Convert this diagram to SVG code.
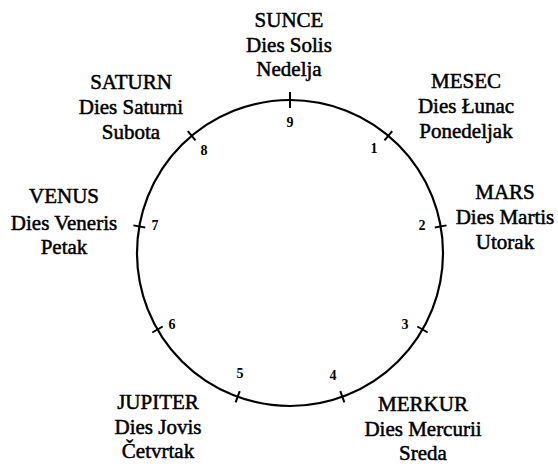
<svg xmlns="http://www.w3.org/2000/svg" width="558" height="467" viewBox="0 0 558 467">
<style>
.lbl{font-family:"Liberation Serif","Times New Roman",serif;font-size:21px;text-anchor:middle;fill:#000;stroke:#000;stroke-width:0.5}
.num{font-family:"Liberation Serif","Times New Roman",serif;font-size:14px;font-weight:bold;text-anchor:middle;fill:#000}
.ring{fill:none;stroke:#000;stroke-width:2.2}
.tick{stroke:#000;stroke-width:2}
</style>
<defs>
<line id="t" class="tick" x1="290" y1="94" x2="290" y2="106"/>
</defs>
<rect width="558" height="467" fill="#fff"/>
<g id="connectors">
<circle class="ring" cx="290" cy="253" r="153"/>
<line class="tick" x1="290" y1="92" x2="290" y2="108" stroke-width="2.5"/>
<use href="#t" transform="rotate(40 290 253)"/>
<use href="#t" transform="rotate(80 290 253)"/>
<use href="#t" transform="rotate(120 290 253)"/>
<use href="#t" transform="rotate(160 290 253)"/>
<use href="#t" transform="rotate(200 290 253)"/>
<use href="#t" transform="rotate(240 290 253)"/>
<use href="#t" transform="rotate(280 290 253)"/>
<use href="#t" transform="rotate(320 290 253)"/>
</g>
<g id="sunce">
<text class="lbl" x="289" y="27">SUNCE</text>
<text class="lbl" x="289" y="52">Dies Solis</text>
<text class="lbl" x="289" y="76">Nedelja</text>
<text class="num" x="290" y="127">9</text>
</g>
<g id="mesec">
<text class="lbl" x="466" y="88">MESEC</text>
<text class="lbl" x="466" y="113">Dies Łunac</text>
<text class="lbl" x="466" y="138">Ponedeljak</text>
<text class="num" x="374" y="153">1</text>
</g>
<g id="mars">
<text class="lbl" x="505" y="199">MARS</text>
<text class="lbl" x="505" y="224">Dies Martis</text>
<text class="lbl" x="505" y="249">Utorak</text>
<text class="num" x="422" y="230">2</text>
</g>
<g id="merkur">
<text class="lbl" x="423" y="411">MERKUR</text>
<text class="lbl" x="423" y="436">Dies Mercurii</text>
<text class="lbl" x="423" y="460">Sreda</text>
<text class="num" x="405" y="329">3</text>
<text class="num" x="333" y="380">4</text>
</g>
<g id="jupiter">
<text class="lbl" x="158" y="409">JUPITER</text>
<text class="lbl" x="158" y="434">Dies Jovis</text>
<text class="lbl" x="158" y="458">Četvrtak</text>
<text class="num" x="240" y="378">5</text>
</g>
<g id="venus">
<text class="lbl" x="64" y="203">VENUS</text>
<text class="lbl" x="64" y="230">Dies Veneris</text>
<text class="lbl" x="64" y="254">Petak</text>
<text class="num" x="172" y="329">6</text>
<text class="num" x="155" y="230">7</text>
</g>
<g id="saturn">
<text class="lbl" x="131" y="89">SATURN</text>
<text class="lbl" x="131" y="114">Dies Saturni</text>
<text class="lbl" x="131" y="139">Subota</text>
<text class="num" x="204" y="155">8</text>
</g>
</svg>
